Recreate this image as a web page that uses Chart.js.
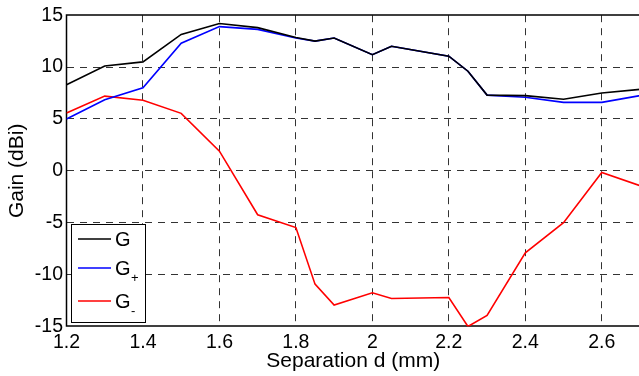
<!DOCTYPE html>
<html>
<head>
<meta charset="utf-8">
<script src="https://cdn.jsdelivr.net/npm/chart.js@4/dist/chart.umd.min.js"></script>
<style>
  html, body { margin: 0; padding: 0; background: #fff; overflow: hidden; }
  #wrap { position: relative; width: 640px; height: 376px; }
</style>
</head>
<body>
<div id="wrap"><canvas id="chart"></canvas></div>
<script>
// separation d (mm)
const separation = [1.2, 1.3, 1.4, 1.5, 1.6, 1.7, 1.8, 1.85, 1.9, 2.0, 2.05, 2.2, 2.25, 2.3, 2.4, 2.5, 2.6, 2.7];
// gain (dBi)
const gainTotal = [8.3, 10.1, 10.5, 13.15, 14.2, 13.8, 12.85, 12.5, 12.8, 11.2, 12.0, 11.05, 9.6, 7.3, 7.25, 6.9, 7.5, 7.85];
const gainPlus  = [5.0, 6.85, 8.0, 12.3, 13.9, 13.63, 12.8, 12.5, 12.8, 11.2, 12.0, 11.05, 9.6, 7.3, 7.1, 6.6, 6.6, 7.25];
const gainMinus = [5.57, 7.2, 6.8, 5.54, 1.9, -4.23, -5.47, -10.92, -12.93, -11.75, -12.3, -12.2, -15.0, -13.94, -7.9, -5.0, -0.16, -1.43];

const seriesNames = ["G", "G", "G"];
const seriesSubs = ["", "+", "-"];
const seriesColors = ["#000000", "#0000ff", "#ff0000"];

const xTicks = [1.2, 1.4, 1.6, 1.8, 2.0, 2.2, 2.4, 2.6];
const yTicks = [-15, -10, -5, 0, 5, 10, 15];

const FONT = "'Liberation Sans', Arial, sans-serif";

function toPoints(ys) {
  return ys.map((y, i) => ({ x: separation[i], y: y }));
}

// legend box in the lower-left corner, MATLAB style
const boxLegend = {
  id: "boxLegend",
  afterDraw(chart) {
    const ctx = chart.ctx;
    const left = 71, top = 224, w = 74, h = 98;
    const rowY = [239, 268, 301];
    ctx.save();
    ctx.fillStyle = "#fff";
    ctx.fillRect(left, top, w, h);
    ctx.strokeStyle = "#000";
    ctx.lineWidth = 1;
    ctx.strokeRect(left + 0.5, top + 0.5, w, h);
    chart.data.datasets.forEach((ds, i) => {
      const y = rowY[i];
      ctx.strokeStyle = ds.borderColor;
      ctx.lineWidth = 1.5;
      ctx.beginPath();
      ctx.moveTo(78, y);
      ctx.lineTo(111, y);
      ctx.stroke();
      ctx.fillStyle = "#000";
      ctx.textBaseline = "middle";
      ctx.textAlign = "left";
      ctx.font = "20px " + FONT;
      ctx.fillText(seriesNames[i], 115, y + 1);
      if (seriesSubs[i]) {
        ctx.font = "13px " + FONT;
        ctx.fillText(seriesSubs[i], 131, y + 10);
      }
    });
    ctx.restore();
  }
};

// full box round the axes
const frame = {
  id: "frame",
  beforeDatasetsDraw(chart) {
    const { left, right, top, bottom } = chart.chartArea;
    const ctx = chart.ctx;
    ctx.save();
    ctx.strokeStyle = "#000";
    ctx.lineWidth = 1.5;
    ctx.strokeRect(Math.round(left) - 0.5, Math.round(top), Math.round(right - left) + 1, Math.round(bottom - top));
    ctx.restore();
  }
};

const edgeColor = (ctx, list) => {
  const v = ctx.tick && ctx.tick.value;
  return (v === list[0] || v === list[list.length - 1]) ? "rgba(0,0,0,0)" : "rgba(0,0,0,0.8)";
};

new Chart(document.getElementById("chart"), {
  type: "line",
  data: {
    datasets: [
      { label: "G", data: toPoints(gainTotal), borderColor: seriesColors[0] },
      { label: "G+", data: toPoints(gainPlus), borderColor: seriesColors[1] },
      { label: "G-", data: toPoints(gainMinus), borderColor: seriesColors[2] },
    ],
  },
  options: {
    responsive: true,
    maintainAspectRatio: false,
    animation: false,
    layout: { padding: { top: 13, right: 0, left: 0, bottom: 0 } },
    elements: {
      line: { borderWidth: 1.6, tension: 0 },
      point: { radius: 0 },
    },
    scales: {
      x: {
        type: "linear",
        min: 1.2,
        max: 2.7,
        afterBuildTicks: (scale) => { scale.ticks = xTicks.map(v => ({ value: v })); },
        afterFit: (scale) => { scale.height = 49.5; },
        ticks: {
          padding: 4,
          color: "#000",
          font: { family: FONT, size: 19.5 },
          maxRotation: 0,
          autoSkip: false,
          callback: (v) => String(v),
        },
        grid: { drawTicks: false, color: (c) => edgeColor(c, [1.2, 2.7]), lineWidth: 1 },
        border: { display: false, dash: [7, 6] },
        title: {
          display: true,
          text: "Separation d (mm)",
          color: "#000",
          font: { family: FONT, size: 21 },
          padding: { top: 0, bottom: 2 },
        },
      },
      y: {
        min: -15,
        max: 15,
        afterBuildTicks: (scale) => { scale.ticks = yTicks.map(v => ({ value: v })); },
        afterFit: (scale) => { scale.width = 66.5; },
        ticks: {
          padding: 3.5,
          color: "#000",
          font: { family: FONT, size: 19.5 },
        },
        grid: { drawTicks: false, color: (c) => edgeColor(c, yTicks), lineWidth: 1 },
        border: { display: false, dash: [7, 6] },
        title: {
          display: true,
          text: "Gain (dBi)",
          color: "#000",
          font: { family: FONT, size: 21 },
          padding: { top: 4.5, bottom: 0 },
        },
      },
    },
    plugins: {
      legend: { display: false },
      tooltip: { enabled: false },
    },
  },
  plugins: [frame, boxLegend],
});
</script>
</body>
</html>
